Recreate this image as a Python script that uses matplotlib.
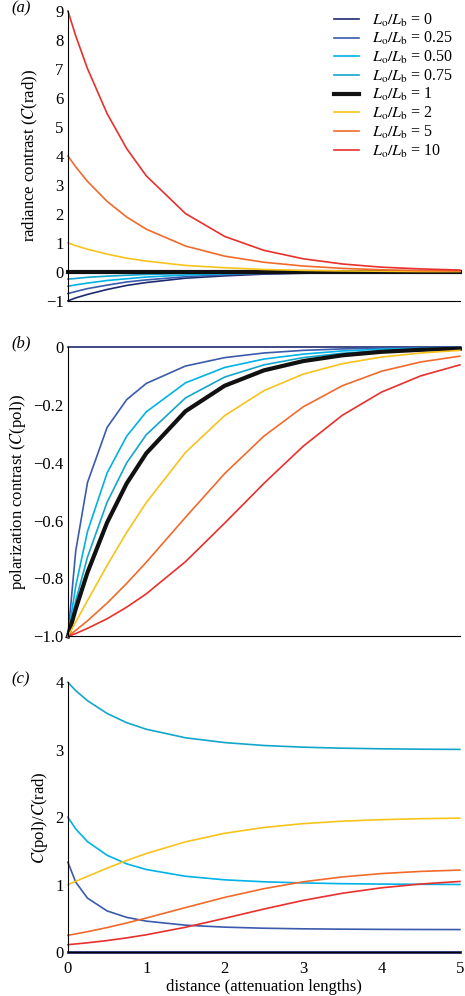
import matplotlib
matplotlib.use("Agg")
import matplotlib.pyplot as plt

plt.rcParams['font.family'] = ['Liberation Serif', 'DejaVu Serif']
plt.rcParams['mathtext.fontset'] = 'stix'

d = [0, 0.1, 0.25, 0.5, 0.75, 1, 1.5, 2, 2.5, 3, 3.5, 4, 4.5, 5]
ratios = ['0', '0.25', '0.50', '0.75', '1', '2', '5', '10']
colors = ['#1f2a6e', '#3a5bab', '#00b2e6', '#12a6cc', '#111111', '#f7c31c', '#f26a2b', '#e8302c']

rad = {
    '0':    [-1, -0.90, -0.78, -0.61, -0.47, -0.37, -0.22, -0.14, -0.08, -0.05, -0.03, -0.02, -0.01, -0.01],
    '0.25': [-0.75, -0.68, -0.58, -0.46, -0.35, -0.28, -0.17, -0.10, -0.06, -0.04, -0.02, -0.01, -0.01, -0.01],
    '0.50': [-0.5, -0.45, -0.39, -0.30, -0.24, -0.18, -0.11, -0.07, -0.04, -0.02, -0.02, -0.01, -0.01, 0],
    '0.75': [-0.25, -0.23, -0.19, -0.15, -0.12, -0.09, -0.06, -0.03, -0.02, -0.01, -0.01, 0, 0, 0],
    '1':    [0] * 14,
    '2':    [1, 0.90, 0.78, 0.61, 0.47, 0.37, 0.22, 0.14, 0.08, 0.05, 0.03, 0.02, 0.01, 0.01],
    '5':    [4, 3.62, 3.12, 2.43, 1.89, 1.47, 0.89, 0.54, 0.33, 0.20, 0.12, 0.07, 0.04, 0.03],
    '10':   [9, 8.14, 7.01, 5.46, 4.25, 3.31, 2.01, 1.22, 0.74, 0.45, 0.27, 0.16, 0.10, 0.06],
}

pol = {
    '0':    [0] * 14,
    '0.25': [-1, -0.705, -0.469, -0.279, -0.183, -0.127, -0.067, -0.038, -0.022, -0.013, -0.008, -0.005, -0.003, -0.002],
    '0.50': [-1, -0.826, -0.638, -0.436, -0.309, -0.225, -0.125, -0.072, -0.043, -0.026, -0.015, -0.009, -0.006, -0.003],
    '0.75': [-1, -0.877, -0.726, -0.537, -0.401, -0.304, -0.177, -0.105, -0.063, -0.038, -0.023, -0.014, -0.008, -0.005],
    '1':    [-1, -0.905, -0.779, -0.607, -0.472, -0.368, -0.223, -0.135, -0.082, -0.050, -0.030, -0.018, -0.011, -0.007],
    '2':    [-1, -0.950, -0.876, -0.755, -0.641, -0.538, -0.365, -0.238, -0.152, -0.095, -0.059, -0.036, -0.022, -0.013],
    '5':    [-1, -0.979, -0.946, -0.885, -0.817, -0.744, -0.589, -0.438, -0.309, -0.208, -0.135, -0.085, -0.053, -0.033],
    '10':   [-1, -0.990, -0.972, -0.939, -0.899, -0.853, -0.742, -0.609, -0.472, -0.344, -0.237, -0.157, -0.101, -0.063],
}

ratio = {
    '0':    [0] * 14,
    '0.25': [1.333, 1.038, 0.801, 0.611, 0.516, 0.460, 0.400, 0.371, 0.355, 0.346, 0.341, 0.338, 0.336, 0.335],
    '0.50': [2, 1.826, 1.638, 1.436, 1.309, 1.225, 1.125, 1.072, 1.043, 1.026, 1.015, 1.009, 1.006, 1.003],
    '0.75': [4, 3.876, 3.727, 3.538, 3.401, 3.304, 3.177, 3.106, 3.063, 3.038, 3.023, 3.014, 3.008, 3.005],
    '2':    [1, 1.050, 1.124, 1.245, 1.359, 1.462, 1.635, 1.762, 1.848, 1.905, 1.941, 1.964, 1.978, 1.987],
    '5':    [0.25, 0.271, 0.304, 0.365, 0.433, 0.506, 0.661, 0.812, 0.941, 1.043, 1.115, 1.165, 1.197, 1.217],
    '10':   [0.111, 0.122, 0.139, 0.172, 0.212, 0.258, 0.369, 0.502, 0.639, 0.767, 0.873, 0.954, 1.010, 1.048],
}

fig = plt.figure(figsize=(4.65, 9.96), dpi=100)
L, W = 0.146, 0.843
axa = fig.add_axes([L, 0.698, W, 0.291])
axb = fig.add_axes([L, 0.361, W, 0.291])
axc = fig.add_axes([L, 0.044, W, 0.271])

for ax in (axa, axb, axc):
    ax.spines['top'].set_visible(False)
    ax.spines['right'].set_visible(False)
    ax.set_xlim(0, 5)
    ax.tick_params(length=0, labelsize=12, pad=3)

for k, c in zip(ratios, colors):
    lw = 3 if k == '1' else 1.2
    axa.plot(d, rad[k], color=c, lw=lw, label=r'$L_\mathrm{o}/L_\mathrm{b}$ = ' + k, clip_on=False)
    axb.plot(d, pol[k], color=c, lw=lw, clip_on=False)
    if k in ratio:
        axc.plot(d, ratio[k], color=c, lw=1.2 if k != '0' else 2, clip_on=False)

axa.set_ylim(-1, 9)
axa.set_yticks(range(-1, 10))
axa.set_yticklabels(['\u22121'] + [str(i) for i in range(10)])
axa.set_xticks([])
axa.set_ylabel(r'radiance contrast ($\mathit{C}$(rad))', fontsize=12)
axa.legend(loc='upper right', frameon=False, fontsize=11.5, handlelength=1.6,
           labelspacing=0.1, borderaxespad=0.0, bbox_to_anchor=(1.0, 1.02))

axb.set_ylim(-1.0, 0)
axb.set_yticks([0, -0.2, -0.4, -0.6, -0.8, -1.0])
axb.set_yticklabels(['0', '\u22120.2', '\u22120.4', '\u22120.6', '\u22120.8', '\u22121.0'])
axb.set_xticks([])
axb.set_ylabel(r'polarization contrast ($\mathit{C}$(pol))', fontsize=12)

axc.set_ylim(0, 4)
axc.set_yticks([0, 1, 2, 3, 4])
axc.set_xticks(range(6))
axc.tick_params(axis='x', pad=6)
axc.set_ylabel(r'$\mathit{C}$(pol)/$\mathit{C}$(rad)', fontsize=12)
axc.set_xlabel('distance (attenuation lengths)', fontsize=12, labelpad=2)

for ax, lab in ((axa, '(a)'), (axb, '(b)'), (axc, '(c)')):
    ax.text(-0.145, 1.01, lab, transform=ax.transAxes, fontsize=12, style='italic', va='center')

fig.savefig('out.png', dpi=100)
